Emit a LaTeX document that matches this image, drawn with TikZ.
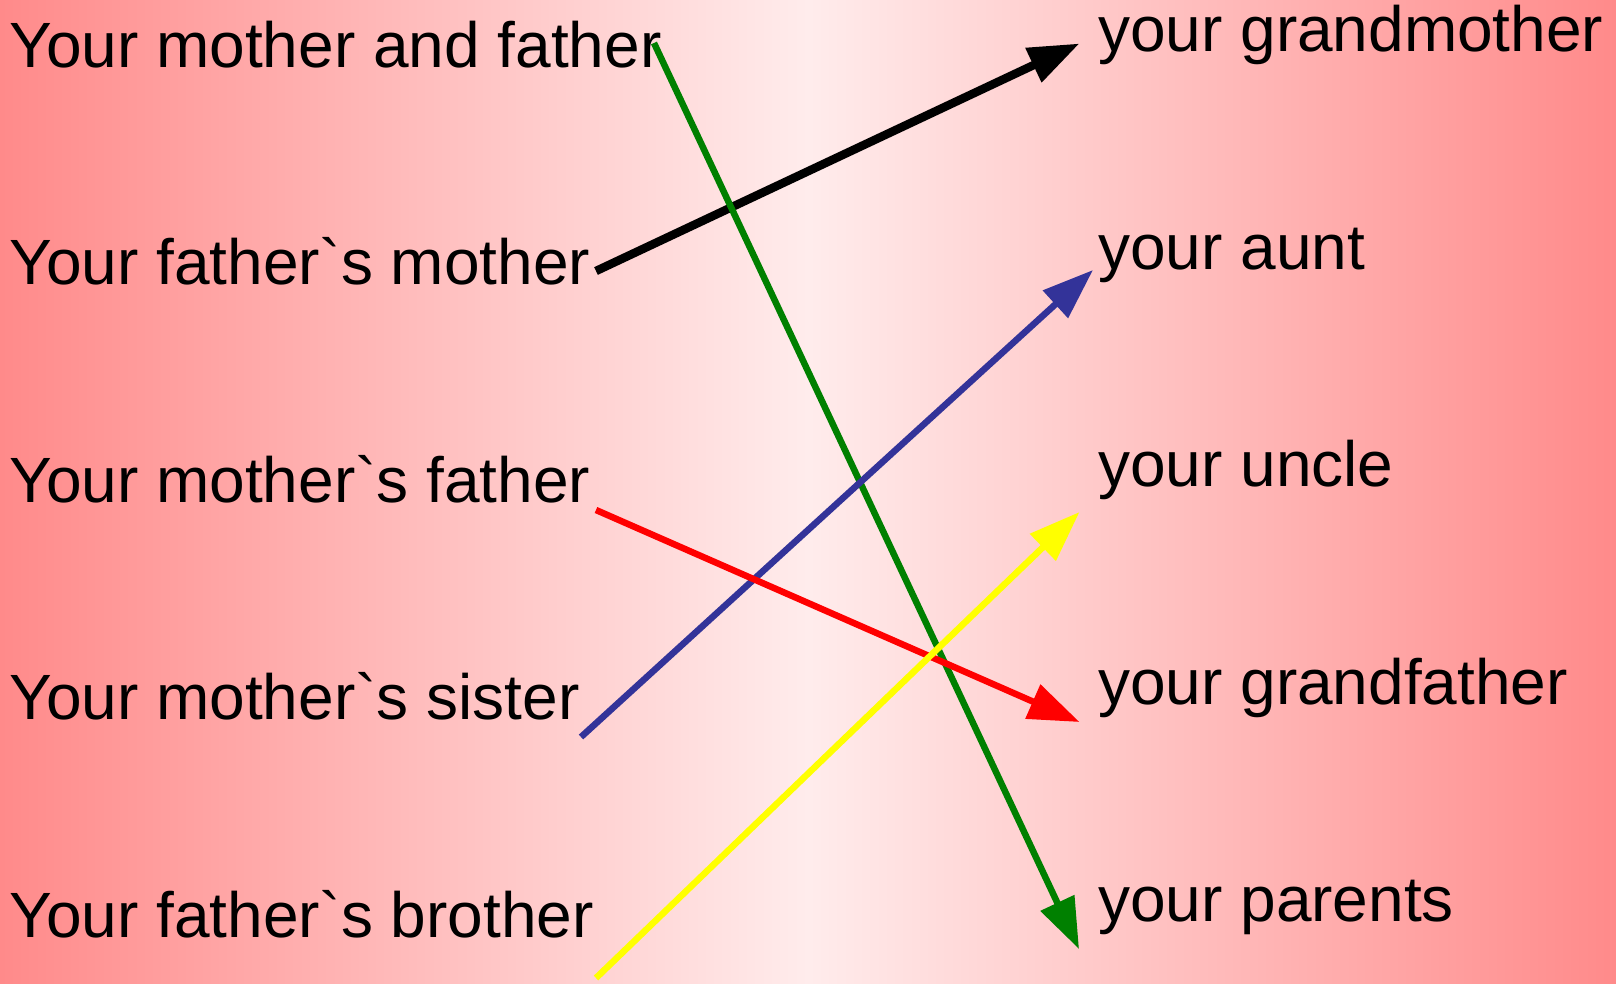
\documentclass[tikz,border=0pt]{standalone}
\usepackage{fontspec}
\setmainfont{Liberation Sans}[Ligatures=TeXOff]
\usetikzlibrary{arrows.meta}
\definecolor{bgedge}{RGB}{255,138,138}
\definecolor{bgmid}{RGB}{255,236,236}
\definecolor{lgreen}{RGB}{0,128,0}
\definecolor{lblue}{RGB}{51,51,153}
\definecolor{lred}{RGB}{255,0,0}
\definecolor{lyellow}{RGB}{255,255,0}
\begin{document}
\begin{tikzpicture}[x=1pt,y=-1pt,
  lbl/.style={anchor=base west, inner sep=0pt, font=\fontsize{64}{70}\selectfont},
  conn/.style={line width=6.5pt, -{Triangle[length=51pt,width=36pt]}}]
\useasboundingbox (0,0) rectangle (1616,983);
\shade[left color=bgedge,right color=bgmid] (0,0) rectangle (808.5,983);
\shade[left color=bgmid,right color=bgedge] (808,0) rectangle (1616,983);
% left labels
\node[lbl] (L1) at (9,67) {Your mother and father};
\node[lbl] (L2) at (9,284.5) {Your father`s mother};
\node[lbl] (L3) at (9,502) {Your mother`s father};
\node[lbl] (L4) at (9,719.5) {Your mother`s sister};
\node[lbl] (L5) at (9,937) {Your father`s brother};
% right labels
\node[lbl] (R1) at (1098,51.5) {your grandmother};
\node[lbl] (R2) at (1098,269) {your aunt};
\node[lbl] (R3) at (1098,486.5) {your uncle};
\node[lbl] (R4) at (1098,704) {your grandfather};
\node[lbl] (R5) at (1098,921.5) {your parents};
% connector ends
\coordinate (s1) at (654,43);
\coordinate (s2) at (596,271);
\coordinate (s3) at (596,510);
\coordinate (s4) at (581,737);
\coordinate (s5) at (596,978);
\coordinate (e1) at (1079.5,43.5);
\coordinate (e2) at (1093,270);
\coordinate (e3) at (1079.5,512);
\coordinate (e4) at (1079.5,722);
\coordinate (e5) at (1079,949);
% connectors
\draw[conn, draw=black, fill=black, line width=8.5pt] (s2) -- (e1);
\draw[conn, draw=lgreen, fill=lgreen] (s1) -- (e5);
\draw[conn, draw=lblue, fill=lblue] (s4) -- (e2);
\draw[conn, draw=lred, fill=lred] (s3) -- (e4);
\draw[conn, draw=lyellow, fill=lyellow] (s5) -- (e3);
\end{tikzpicture}
\end{document}
